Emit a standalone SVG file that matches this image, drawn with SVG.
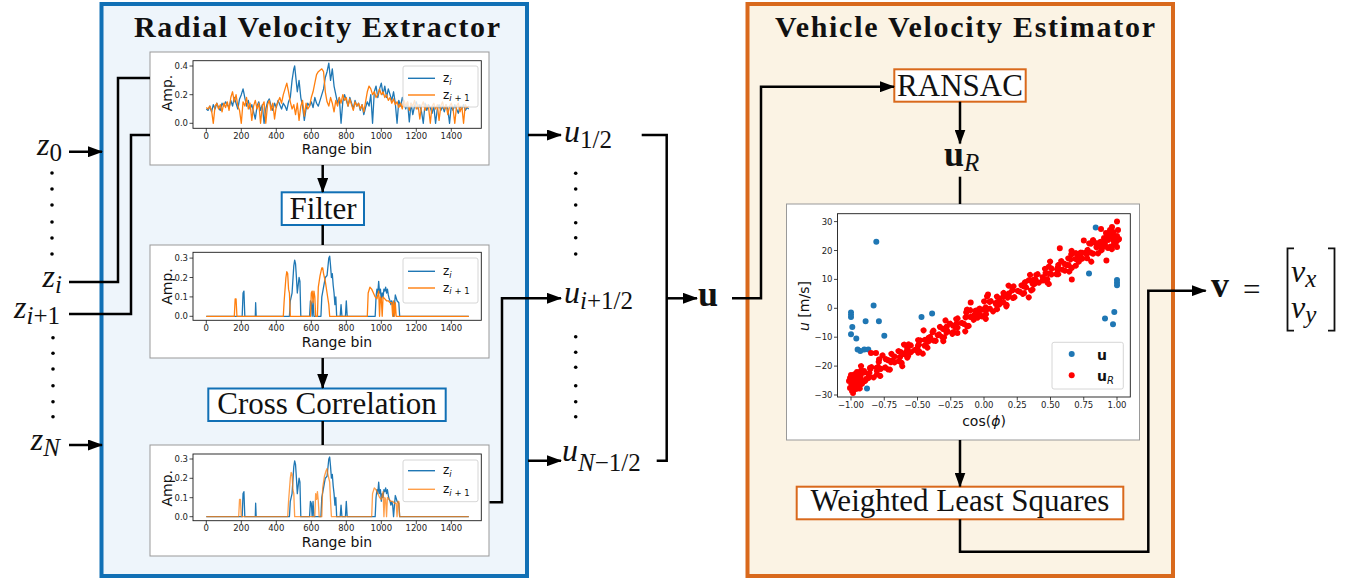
<svg xmlns="http://www.w3.org/2000/svg" width="1356" height="581" viewBox="0 0 1356 581">
<defs>
<marker id="ah" markerUnits="userSpaceOnUse" markerWidth="15" markerHeight="11" refX="14" refY="5.5" orient="auto" viewBox="0 0 15 11"><path d="M0,0 L15,5.5 L0,11 z" fill="#000"/></marker>
<style>
.title{font-family:"Liberation Serif",serif;font-weight:bold;font-size:30px;fill:#111}
.lbl{font-family:"Liberation Serif",serif;font-size:31px;fill:#111}
.mi{font-family:"Liberation Serif",serif;font-size:32px;font-style:italic;fill:#111}
.mb{font-family:"Liberation Serif",serif;font-size:36px;font-weight:bold;fill:#111}
.sub{font-size:25px;font-style:normal}
.si{font-size:25px;font-style:italic}
.conn{stroke:#000;stroke-width:2.5;fill:none}
.arr{marker-end:url(#ah)}
.bbox{fill:#fff;stroke:#1170B5;stroke-width:2}
.obox{fill:#fff;stroke:#D9691C;stroke-width:2}
.pbg{fill:#fff;stroke:#999;stroke-width:1}
.ax{fill:none;stroke:#1a1a1a;stroke-width:0.9}
.tk{stroke:#1a1a1a;stroke-width:0.8;fill:none}
.tx{font-family:"DejaVu Sans",sans-serif;font-size:8.5px;fill:#222;text-anchor:middle}
.ty{font-family:"DejaVu Sans",sans-serif;font-size:8.5px;fill:#222;text-anchor:end}
.al{font-family:"DejaVu Sans",sans-serif;font-size:14px;fill:#111;text-anchor:middle}
.lg{fill:#fff;fill-opacity:0.8;stroke:#ccc;stroke-width:0.8}
.lt{font-family:"DejaVu Sans",sans-serif;font-size:12px;fill:#111}
.b{fill:none;stroke:#1f77b4;stroke-width:1.3;vector-effect:non-scaling-stroke;stroke-linejoin:round}
.o{fill:none;stroke:#ff7f0e;stroke-width:1.3;vector-effect:non-scaling-stroke;stroke-linejoin:round}
.dot{fill:#000}
.bd{fill:none;stroke:#1f77b4;stroke-width:6;stroke-linecap:round}
.rd{fill:none;stroke:#ff0000;stroke-width:6;stroke-linecap:round}
</style>
</defs>

<!-- containers -->
<g id="extractor">
<rect x="101.5" y="4" width="425.5" height="572" fill="#EEF5FB" stroke="#1170B5" stroke-width="4"/>
<text class="title" x="317" y="36.5" text-anchor="middle" textLength="366" lengthAdjust="spacing">Radial Velocity Extractor</text>
</g>
<g id="estimator">
<rect x="747.5" y="4" width="425.5" height="572" fill="#FBF3E4" stroke="#D9691C" stroke-width="4"/>
<text class="title" x="965" y="36.7" text-anchor="middle" textLength="380" lengthAdjust="spacing">Vehicle Velocity Estimator</text>
</g>

<!-- plot 1 -->
<g id="plot1">
<rect class="pbg" x="150" y="52" width="339" height="113"/>
<g transform="translate(206.3,123.3) scale(0.175,-143.3)">
<polyline class="b" points="0,.10 10,.09 20,.12 30,.08 40,.13 50,.10 60,.14 70,.11 80,.09 90,.14 100,.12 110,.15 120,.13 130,.11 140,.16 150,.12 160,.18 170,.14 180,.10 190,.17 200,.20 210,.24 220,.18 230,.12 240,.16 250,.10 260,.13 270,.08 280,.03 290,.12 300,.15 310,.09 320,.13 330,.0 340,.10 350,.15 360,.17 370,.12 380,.09 390,.14 400,.11 410,.16 420,.13 430,.10 440,.14 450,.12 460,.09 470,.15 480,.18 490,.30 500,.38 505,.40 510,.34 520,.22 530,.30 540,.18 550,.12 560,.02 570,.10 580,.14 590,.12 600,.15 610,.11 620,.18 630,.14 640,.12 650,.16 660,.20 670,.24 680,.32 690,.36 700,.42 710,.30 720,.38 730,.26 740,.20 750,.14 760,.18 770,.0 780,.15 790,.20 800,.16 810,.12 820,.18 830,.14 840,.10 850,.16 860,.12 870,.14 880,.09 890,.13 900,.06 910,.11 920,.15 930,.12 940,.20 950,.0 960,.22 970,.26 980,.18 990,.24 1000,.28 1010,.20 1020,.26 1030,.18 1040,.24 1050,.20 1060,.16 1070,.22 1080,.14 1090,.0 1100,.16 1110,.12 1120,.18 1130,.14 1140,.10 1150,.15 1160,.01 1170,.14 1180,.06 1190,.12 1200,.15 1210,.10 1220,.13 1230,.08 1240,.0 1250,.14 1260,.09 1270,.13 1280,.11 1290,.07 1300,.12 1310,.0 1320,.10 1330,.13 1340,.09 1350,.12 1360,.08 1370,.13 1380,.10 1390,.0 1400,.12 1410,.09 1420,.13 1430,.10 1440,.07 1450,.12 1460,.10 1470,.13 1480,.09 1490,.11 1500,.10"/>
<polyline class="o" points="0,.11 10,.10 20,.12 30,.09 40,.00 50,.12 60,.14 70,.10 80,.13 90,.08 100,.14 110,.11 120,.15 130,.09 140,.18 150,.22 160,.15 170,.20 180,.12 190,.09 200,.00 210,.15 220,.12 230,.18 240,.10 250,.14 260,.02 270,.12 280,.16 290,.10 300,.14 310,.00 320,.12 330,.15 340,.00 350,.13 360,.16 370,.09 380,.14 390,.03 400,.12 410,.15 420,.18 430,.14 440,.20 450,.24 460,.28 470,.22 480,.15 490,.10 500,.13 510,.06 520,.14 530,.02 540,.12 550,.16 560,.05 570,.14 580,.10 590,.12 600,.18 610,.22 620,.28 630,.34 640,.36 650,.37 660,.38 670,.36 680,.22 690,.15 700,.12 710,.18 720,.14 730,.08 740,.16 750,.12 760,.18 770,.14 780,.20 790,.16 800,.18 810,.12 820,.17 830,.13 840,.09 850,.15 860,.12 870,.14 880,.10 890,.13 900,.08 910,.15 920,.22 930,.26 940,.24 950,.20 960,.22 970,.18 980,.20 990,.24 1000,.20 1010,.22 1020,.18 1030,.20 1040,.16 1050,.18 1060,.14 1070,.17 1080,.13 1090,.15 1100,.11 1110,.14 1120,.10 1130,.16 1140,.12 1150,.15 1160,.09 1170,.14 1180,.12 1190,.16 1200,.10 1210,.13 1220,.03 1230,.12 1240,.15 1250,.09 1260,.13 1270,.11 1280,.00 1290,.12 1300,.14 1310,.10 1320,.13 1330,.02 1340,.12 1350,.15 1360,.10 1370,.13 1380,.06 1390,.12 1400,.14 1410,.10 1420,.00 1430,.12 1440,.14 1450,.08 1460,.12 1470,.00 1480,.13 1490,.11 1500,.12"/>
</g>
<rect class="ax" x="193" y="60.7" width="288.3" height="67.6"/>
<path class="tk" d="M206.3,128.3v3.5M241.3,128.3v3.5M276.3,128.3v3.5M311.3,128.3v3.5M346.3,128.3v3.5M381.3,128.3v3.5M416.3,128.3v3.5M451.3,128.3v3.5M193,66h-3.5M193,94.7h-3.5M193,123.3h-3.5"/>
<text class="tx" x="206.3" y="139.3">0</text><text class="tx" x="241.3" y="139.3">200</text><text class="tx" x="276.3" y="139.3">400</text><text class="tx" x="311.3" y="139.3">600</text><text class="tx" x="346.3" y="139.3">800</text><text class="tx" x="381.3" y="139.3">1000</text><text class="tx" x="416.3" y="139.3">1200</text><text class="tx" x="451.3" y="139.3">1400</text>
<text class="ty" x="188" y="69">0.4</text><text class="ty" x="188" y="97.7">0.2</text><text class="ty" x="188" y="126.3">0.0</text>
<text class="al" x="337" y="154">Range bin</text>
<text class="al" font-size="15" transform="translate(172,93) rotate(-90)">Amp.</text>
<rect class="lg" x="403" y="66" width="75" height="41" rx="2"/>
<path d="M408,78.3h27" stroke="#1f77b4" stroke-width="1.4"/><path d="M408,95h27" stroke="#ff7f0e" stroke-width="1.4"/>
<text class="lt" x="443" y="82">z<tspan font-size="8.5" font-style="italic" dy="2.5">i</tspan></text>
<text class="lt" x="443" y="98.7">z<tspan font-size="8.5" dy="2.5"><tspan font-style="italic">i</tspan> + 1</tspan></text>
</g>

<!-- plot 2 -->
<g id="plot2">
<rect class="pbg" x="150" y="245" width="339" height="113"/>
<g transform="translate(206.3,316.3) scale(0.175,-194)">
<polyline class="b" points="0,0 205,0 210,.12 215,.13 220,0 280,0 282,.07 285,0 475,0 480,.08 490,.12 500,.26 505,.29 510,.27 515,.20 520,.12 525,.16 530,.20 535,.18 540,0 590,0 595,.08 600,.07 605,0 610,.08 615,0 655,0 660,.10 670,.15 680,.20 690,.21 700,.30 705,.31 710,.26 715,.20 720,.22 725,.16 730,.12 735,.06 740,.10 745,0 765,0 770,.06 775,0 795,0 800,.08 805,0 965,0 970,.10 975,.14 980,.12 985,.18 990,.12 995,.14 1000,.08 1005,.12 1010,.10 1015,.14 1020,.13 1025,.15 1030,.12 1035,.14 1040,.11 1045,.09 1050,.08 1055,.06 1060,.08 1065,.06 1070,0 1080,.11 1090,.08 1100,.07 1105,0 1500,0"/>
<polyline class="o" points="0,0 160,0 165,.09 170,.09 175,0 440,0 445,.08 455,.20 460,.23 465,.22 470,.14 475,.12 480,0 595,0 600,.12 605,.13 610,.07 615,.13 620,.10 625,0 635,0 640,.15 650,.21 660,.25 665,.25 670,.22 680,.18 690,.12 700,.06 705,0 920,0 925,.12 935,.15 945,.14 955,.12 965,.10 975,.09 985,.13 990,0 995,.10 1000,.09 1005,0 1010,.10 1020,.09 1030,.08 1040,.08 1050,.07 1060,.07 1065,0 1070,.08 1075,0 1080,.07 1085,0 1500,0"/>
</g>
<rect class="ax" x="193" y="252.3" width="288.3" height="68"/>
<path class="tk" d="M206.3,320.3v3.5M241.3,320.3v3.5M276.3,320.3v3.5M311.3,320.3v3.5M346.3,320.3v3.5M381.3,320.3v3.5M416.3,320.3v3.5M451.3,320.3v3.5M193,258.1h-3.5M193,277.5h-3.5M193,296.9h-3.5M193,316.3h-3.5"/>
<text class="tx" x="206.3" y="331.3">0</text><text class="tx" x="241.3" y="331.3">200</text><text class="tx" x="276.3" y="331.3">400</text><text class="tx" x="311.3" y="331.3">600</text><text class="tx" x="346.3" y="331.3">800</text><text class="tx" x="381.3" y="331.3">1000</text><text class="tx" x="416.3" y="331.3">1200</text><text class="tx" x="451.3" y="331.3">1400</text>
<text class="ty" x="188" y="261.1">0.3</text><text class="ty" x="188" y="280.5">0.2</text><text class="ty" x="188" y="299.9">0.1</text><text class="ty" x="188" y="319.3">0.0</text>
<text class="al" x="337" y="347">Range bin</text>
<text class="al" font-size="15" transform="translate(172,286.5) rotate(-90)">Amp.</text>
<rect class="lg" x="403" y="258" width="75" height="45" rx="2"/>
<path d="M408,271.3h27" stroke="#1f77b4" stroke-width="1.4"/><path d="M408,288h27" stroke="#ff7f0e" stroke-width="1.4"/>
<text class="lt" x="443" y="275">z<tspan font-size="8.5" font-style="italic" dy="2.5">i</tspan></text>
<text class="lt" x="443" y="291.7">z<tspan font-size="8.5" dy="2.5"><tspan font-style="italic">i</tspan> + 1</tspan></text>
</g>

<!-- plot 3 -->
<g id="plot3">
<rect class="pbg" x="150" y="445" width="339" height="111"/>
<g transform="translate(206.3,516.7) scale(0.175,-192.5)">
<polyline class="b" points="0,0 205,0 210,.12 215,.13 220,0 280,0 282,.07 285,0 475,0 480,.08 490,.12 500,.26 505,.29 510,.27 515,.20 520,.12 525,.16 530,.20 535,.18 540,0 590,0 595,.08 600,.07 605,0 610,.08 615,0 655,0 660,.10 670,.15 680,.20 690,.21 700,.30 705,.31 710,.26 715,.20 720,.22 725,.16 730,.12 735,.06 740,.10 745,0 765,0 770,.06 775,0 795,0 800,.08 805,0 965,0 970,.10 975,.14 980,.12 985,.18 990,.12 995,.14 1000,.08 1005,.12 1010,.10 1015,.14 1020,.13 1025,.15 1030,.12 1035,.14 1040,.11 1045,.09 1050,.08 1055,.06 1060,.08 1065,.06 1070,0 1080,.11 1090,.08 1100,.07 1105,0 1500,0"/>
<polyline class="o" opacity="0.75" points="0,0 185,0 190,.09 195,.09 200,0 465,0 470,.08 480,.20 485,.23 490,.22 495,.14 500,.12 505,0 620,0 625,.12 630,.09 635,.13 640,.08 645,0 660,0 665,.15 675,.21 685,.24 690,.25 695,.22 705,.18 710,.08 715,0 945,0 950,.12 960,.15 970,.14 980,.12 990,.10 1000,.09 1010,.13 1015,0 1020,.10 1025,.09 1030,0 1035,.10 1045,.09 1055,.08 1065,.08 1075,.07 1085,.07 1090,0 1095,.08 1100,.08 1105,0 1500,0"/>
</g>
<rect class="ax" x="193" y="454" width="288.3" height="66.7"/>
<path class="tk" d="M206.3,520.7v3.5M241.3,520.7v3.5M276.3,520.7v3.5M311.3,520.7v3.5M346.3,520.7v3.5M381.3,520.7v3.5M416.3,520.7v3.5M451.3,520.7v3.5M193,459h-3.5M193,478.3h-3.5M193,497.7h-3.5M193,516.7h-3.5"/>
<text class="tx" x="206.3" y="531">0</text><text class="tx" x="241.3" y="531">200</text><text class="tx" x="276.3" y="531">400</text><text class="tx" x="311.3" y="531">600</text><text class="tx" x="346.3" y="531">800</text><text class="tx" x="381.3" y="531">1000</text><text class="tx" x="416.3" y="531">1200</text><text class="tx" x="451.3" y="531">1400</text>
<text class="ty" x="188" y="462">0.3</text><text class="ty" x="188" y="481.3">0.2</text><text class="ty" x="188" y="500.7">0.1</text><text class="ty" x="188" y="519.7">0.0</text>
<text class="al" x="337" y="546.5">Range bin</text>
<text class="al" font-size="15" transform="translate(172,488.3) rotate(-90)">Amp.</text>
<rect class="lg" x="403" y="460" width="75" height="41.7" rx="2"/>
<path d="M408,470.7h27" stroke="#1f77b4" stroke-width="1.4"/><path d="M408,489.3h27" stroke="#ff7f0e" stroke-width="1.4" opacity="0.75"/>
<text class="lt" x="443" y="474.4">z<tspan font-size="8.5" font-style="italic" dy="2.5">i</tspan></text>
<text class="lt" x="443" y="493">z<tspan font-size="8.5" dy="2.5"><tspan font-style="italic">i</tspan> + 1</tspan></text>
</g>

<!-- processing boxes -->
<g id="filter"><rect class="bbox" x="281.7" y="192.3" width="82.3" height="32.7"/><text class="lbl" x="323" y="219" text-anchor="middle">Filter</text></g>
<g id="crosscorr"><rect class="bbox" x="208.3" y="388.5" width="237.4" height="32.5"/><text class="lbl" x="327" y="414" text-anchor="middle">Cross Correlation</text></g>
<g id="ransac"><rect class="obox" x="894.3" y="69.3" width="131.4" height="32.4"/><text class="lbl" x="960" y="96.3" text-anchor="middle">RANSAC</text></g>
<g id="wls"><rect class="obox" x="796.7" y="486.7" width="326.6" height="32.6"/><text class="lbl" x="960" y="510.5" text-anchor="middle">Weighted Least Squares</text></g>

<!-- scatter plot -->
<g id="scatter">
<rect class="pbg" x="786.5" y="204" width="353" height="236"/>
<path class="bd" d="M851,312.6h.01M851,314.7h.01M851,317h.01M852.3,327.1h.01M851,334.3h.01M856.3,338.6h.01M857.6,349.6h.01M860.3,351.1h.01M864.3,349.6h.01M868.3,349.6h.01M865.6,321.3h.01M878.9,321.3h.01M873.6,305.4h.01M876.3,241.8h.01M884.3,335.8h.01M921.5,317h.01M932.1,313.5h.01M1089,273.6h.01M1095.7,227.4h.01M1105,318.4h.01M1113,324.2h.01M1114.3,312.1h.01M1117,285.2h.01M1117,282.3h.01M1117,280h.01M1117,283.7h.01M867,388.4h.01"/>
<g transform="translate(851,383) rotate(-28.93)">
<path class="rd" d="M0,3h.01M3,-5h.01M6,1h.01M9,6h.01M12,-2h.01M15,-6h.01M18,4h.01M21,0h.01M24,-3h.01M27,5h.01M30,-1h.01M33,2h.01M36,-7h.01M39,6h.01M42,-4h.01M45,1h.01M48,3h.01M51,-2h.01M54,7h.01M57,-5h.01M60,0h.01M63,4h.01M66,-3h.01M69,-6h.01M72,2h.01M75,5h.01M78,-1h.01M81,-4h.01M84,6h.01M87,1h.01M90,-2h.01M93,3h.01M96,-5h.01M99,0h.01M102,4h.01M105,-6h.01M108,2h.01M111,-3h.01M114,5h.01M117,-1h.01M120,3h.01M123,-5h.01M126,1h.01M129,6h.01M132,-2h.01M135,-6h.01M138,4h.01M141,0h.01M144,-3h.01M147,5h.01M150,-1h.01M153,2h.01M156,-7h.01M159,6h.01M162,-4h.01M165,1h.01M168,3h.01M171,-2h.01M174,7h.01M177,-5h.01M180,0h.01M183,4h.01M186,-3h.01M189,-6h.01M192,2h.01M195,5h.01M198,-1h.01M201,-4h.01M204,6h.01M207,1h.01M210,-2h.01M213,3h.01M216,-5h.01M219,0h.01M222,4h.01M225,-6h.01M228,2h.01M231,-3h.01M234,5h.01M237,-1h.01M240,3h.01M243,-5h.01M246,1h.01M249,6h.01M252,-2h.01M255,-6h.01M258,4h.01M261,0h.01M264,-3h.01M267,5h.01M270,-1h.01M273,2h.01M276,-7h.01M279,6h.01M282,-4h.01M285,1h.01M288,3h.01M291,-2h.01M294,7h.01M297,-5h.01M300,0h.01M303,4h.01
M1.5,-2h.01M4.5,4h.01M7.5,-6h.01M10.5,0h.01M13.5,5h.01M16.5,-3h.01M19.5,1h.01M22.5,6h.01M25.5,-4h.01M28.5,2h.01M31.5,-1h.01M34.5,-5h.01M37.5,3h.01M40.5,7h.01M43.5,-2h.01M46.5,0h.01M49.5,-6h.01M52.5,4h.01M55.5,1h.01M58.5,-3h.01M61.5,5h.01M64.5,-1h.01M67.5,2h.01M70.5,-4h.01M73.5,6h.01M76.5,0h.01M79.5,-5h.01M82.5,3h.01M85.5,-2h.01M88.5,1h.01M91.5,-2h.01M94.5,4h.01M97.5,-6h.01M100.5,0h.01M103.5,5h.01M106.5,-3h.01M109.5,1h.01M112.5,6h.01M115.5,-4h.01M118.5,2h.01M121.5,-1h.01M124.5,-5h.01M127.5,3h.01M130.5,7h.01M133.5,-2h.01M136.5,0h.01M139.5,-6h.01M142.5,4h.01M145.5,1h.01M148.5,-3h.01M151.5,5h.01M154.5,-1h.01M157.5,2h.01M160.5,-4h.01M163.5,6h.01M166.5,0h.01M169.5,-5h.01M172.5,3h.01M175.5,-2h.01M178.5,1h.01M181.5,-2h.01M184.5,4h.01M187.5,-6h.01M190.5,0h.01M193.5,5h.01M196.5,-3h.01M199.5,1h.01M202.5,6h.01M205.5,-4h.01M208.5,2h.01M211.5,-1h.01M214.5,-5h.01M217.5,3h.01M220.5,7h.01M223.5,-2h.01M226.5,0h.01M229.5,-6h.01M232.5,4h.01M235.5,1h.01M238.5,-3h.01M241.5,5h.01M244.5,-1h.01M247.5,2h.01M250.5,-4h.01M253.5,6h.01M256.5,0h.01M259.5,-5h.01M262.5,3h.01M265.5,-2h.01M268.5,1h.01M271.5,-2h.01M274.5,4h.01M277.5,-6h.01M280.5,0h.01M283.5,5h.01M286.5,-3h.01M289.5,1h.01M292.5,6h.01M295.5,-4h.01M298.5,2h.01M301.5,-1h.01
M5,9h.01M17,-10h.01M29,8h.01M41,-9h.01M53,10h.01M65,-8h.01M77,9h.01M89,-11h.01M101,8h.01M113,-9h.01M125,10h.01M137,-8h.01M149,9h.01M161,-10h.01M173,8h.01M185,-9h.01M197,11h.01M209,-8h.01M221,9h.01M233,-10h.01M245,8h.01M257,-9h.01M269,10h.01M281,-8h.01M293,9h.01"/>
</g>
<path class="rd" d="M850,378h.01M851,383h.01M850,388h.01M852,386h.01M853,380h.01M852,391h.01M854,385h.01M855,377h.01M856,389h.01M851,375h.01M849,381h.01M853,393h.01M857,383h.01M858,386h.01M855,381h.01M860,380h.01M862,383h.01M860,376h.01M864,371h.01M866,379h.01M857,372h.01M870,368h.01M871,353h.01M876,353h.01M1117,236h.01M1116,242h.01M1118,230h.01M1115,238h.01M1113,232h.01M1117,247h.01M1114,244h.01M1111,236h.01M1108,240h.01M1110,230h.01M1112,227h.01M1106,233h.01M1104,238h.01M1101,229h.01M1117,221.6h.01M1103,243h.01M1108,248h.01M1119,239h.01M1106.4,260.6h.01M1071.8,279.4h.01M1083.8,240.4h.01M1059.8,248.2h.01M957.4,332.9h.01M988,294.4h.01M970.7,302.5h.01"/>
<rect class="ax" x="837.5" y="213.7" width="292.8" height="183.3"/>
<path class="tk" d="M851,397v3.5M884.25,397v3.5M917.5,397v3.5M950.75,397v3.5M984,397v3.5M1017.25,397v3.5M1050.5,397v3.5M1083.75,397v3.5M1117,397v3.5M837.5,221.6h-3.5M837.5,250.5h-3.5M837.5,279.4h-3.5M837.5,308.3h-3.5M837.5,337.2h-3.5M837.5,366.1h-3.5M837.5,395h-3.5"/>
<text class="tx" x="851" y="408">−1.00</text><text class="tx" x="884.25" y="408">−0.75</text><text class="tx" x="917.5" y="408">−0.50</text><text class="tx" x="950.75" y="408">−0.25</text><text class="tx" x="984" y="408">0.00</text><text class="tx" x="1017.25" y="408">0.25</text><text class="tx" x="1050.5" y="408">0.50</text><text class="tx" x="1083.75" y="408">0.75</text><text class="tx" x="1117" y="408">1.00</text>
<text class="ty" x="832.5" y="224.6">30</text><text class="ty" x="832.5" y="253.5">20</text><text class="ty" x="832.5" y="282.4">10</text><text class="ty" x="832.5" y="311.3">0</text><text class="ty" x="832.5" y="340.2">−10</text><text class="ty" x="832.5" y="369.1">−20</text><text class="ty" x="832.5" y="398">−30</text>
<text class="al" font-size="14.5" x="984" y="425.5">cos(<tspan font-style="italic">ϕ</tspan>)</text>
<text class="al" font-size="14.5" transform="translate(809,306) rotate(-90)"><tspan font-style="italic">u</tspan> [m/s]</text>
<rect class="lg" x="1052" y="342.3" width="71.3" height="46.7" rx="2"/>
<path class="bd" d="M1071.7,354h.01"/><path class="rd" d="M1071.7,375.3h.01"/>
<text x="1097" y="359.5" font-family="'DejaVu Sans',sans-serif" font-weight="bold" font-size="14" fill="#111">u</text>
<text x="1097" y="380.5" font-family="'DejaVu Sans',sans-serif" font-weight="bold" font-size="14" fill="#111">u<tspan font-weight="normal" font-style="italic" font-size="10" dy="3">R</tspan></text>
</g>

<!-- math labels -->
<g id="inputs">
<text class="mi" x="62" y="155" text-anchor="end">z<tspan class="sub" dy="6">0</tspan></text>
<text class="mi" x="62" y="286.7" text-anchor="end">z<tspan class="si" dy="6">i</tspan></text>
<text class="mi" x="60" y="318" text-anchor="end">z<tspan class="si" dy="6">i</tspan><tspan class="sub">+1</tspan></text>
<text class="mi" x="60" y="450" text-anchor="end">z<tspan class="si" dy="6">N</tspan></text>
<g class="dot"><circle cx="52" cy="173" r="1.8"/><circle cx="52" cy="189" r="1.8"/><circle cx="52" cy="205" r="1.8"/><circle cx="52" cy="222" r="1.8"/><circle cx="52" cy="238" r="1.8"/><circle cx="52" cy="254" r="1.8"/><circle cx="53" cy="337.7" r="1.8"/><circle cx="53" cy="353.3" r="1.8"/><circle cx="53" cy="369" r="1.8"/><circle cx="53" cy="385.7" r="1.8"/><circle cx="53" cy="401.7" r="1.8"/><circle cx="53" cy="416.7" r="1.8"/></g>
</g>
<g id="radial">
<text class="mi" x="564" y="141.7">u<tspan class="sub" dy="6">1/2</tspan></text>
<text class="mi" x="564" y="303">u<tspan class="si" dy="6">i</tspan><tspan class="sub">+1/2</tspan></text>
<text class="mi" x="562" y="461">u<tspan class="si" dy="10">N</tspan><tspan class="sub">−1/2</tspan></text>
<g class="dot"><circle cx="575.7" cy="173.3" r="1.8"/><circle cx="575.7" cy="189" r="1.8"/><circle cx="575.7" cy="205" r="1.8"/><circle cx="575.7" cy="222.7" r="1.8"/><circle cx="575.7" cy="237.7" r="1.8"/><circle cx="575.7" cy="254" r="1.8"/><circle cx="575.7" cy="336.7" r="1.8"/><circle cx="575.7" cy="352.3" r="1.8"/><circle cx="575.7" cy="367.3" r="1.8"/><circle cx="575.7" cy="385.7" r="1.8"/><circle cx="575.7" cy="401.7" r="1.8"/><circle cx="575.7" cy="416.7" r="1.8"/></g>
</g>
<g id="u"><text class="mb" x="698" y="305.7">u</text></g>
<g id="uR"><text class="mb" x="944" y="165.7">u<tspan class="si" font-weight="normal" dy="5">R</tspan></text></g>
<g id="v">
<text class="mb" x="1211" y="297">v</text>
<text class="lbl" x="1243" y="300" font-size="32">=</text>
<path d="M1294,248.3H1287.5V330.7H1294M1328,248.3H1334.5V330.7H1328" fill="none" stroke="#111" stroke-width="1.8"/>
<text class="mi" x="1291" y="281.7">v<tspan class="si" dy="5">x</tspan></text>
<text class="mi" x="1291" y="318">v<tspan class="si" dy="5">y</tspan></text>
</g>

<!-- connectors -->
<g id="connectors">
<path class="conn arr" d="M69,151.7H102"/>
<path class="conn arr" d="M69,445H102"/>
<path class="conn" d="M69,282H118V78H150"/>
<path class="conn" d="M69,314H131V135H150"/>
<path class="conn arr" d="M322.7,165V192"/>
<path class="conn" d="M322.7,225V245"/>
<path class="conn arr" d="M322.7,358V388"/>
<path class="conn" d="M322.7,421V445"/>
<path class="conn arr" d="M528,135H561"/>
<path class="conn arr" d="M528,460.7H561"/>
<path class="conn arr" d="M489.5,502.3H502V298.3H561"/>
<path class="conn" d="M641.7,135H666.7V460.7H656.7"/>
<path class="conn arr" d="M666.7,298.3H697"/>
<path class="conn arr" d="M732,298.3H761V86.7H894"/>
<path class="conn arr" d="M960,101.7V143.5"/>
<path class="conn" d="M960,176.7V204"/>
<path class="conn arr" d="M960,440V486.5"/>
<path class="conn arr" d="M960,519.3V551.7H1148.3V290.7H1205.7"/>
</g>
</svg>
